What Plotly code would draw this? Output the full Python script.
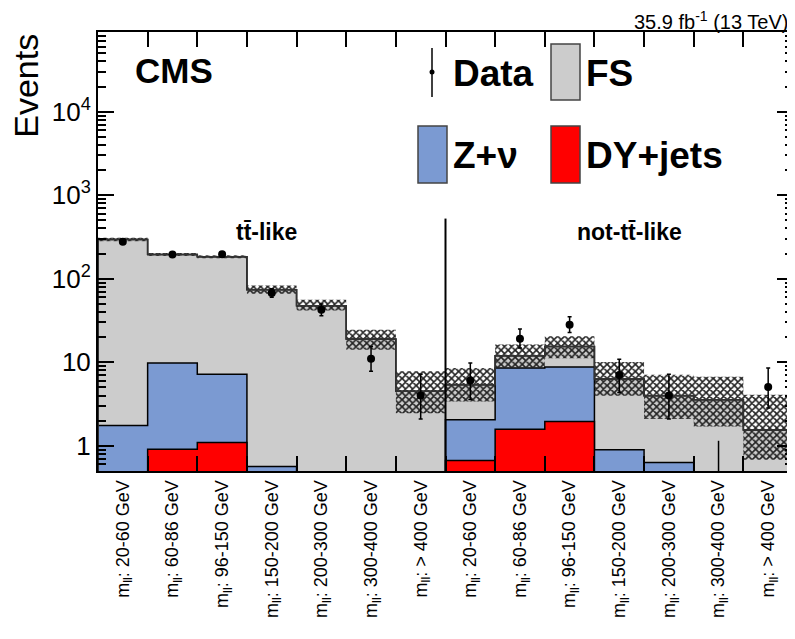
import plotly.graph_objects as go

# ---------------- data ----------------
bin_labels = ["m<sub>ll</sub>: 20-60 GeV", "m<sub>ll</sub>: 60-86 GeV", "m<sub>ll</sub>: 96-150 GeV",
              "m<sub>ll</sub>: 150-200 GeV", "m<sub>ll</sub>: 200-300 GeV", "m<sub>ll</sub>: 300-400 GeV",
              "m<sub>ll</sub>: > 400 GeV"] * 2
# stacked totals (FS + Z+nu + DY), Z+nu + DY, DY
total_bkg = [295, 195, 183, 74, 47.5, 19.0, 4.5, 5.4, 12.0, 15.5, 6.3, 3.98, 3.56, 1.55]
znu_plus_dy = [1.75, 9.8, 7.2, 0.565, 0, 0, 0, 2.05, 8.55, 8.8, 0.9, 0.63, 0, 0]
dy_jets = [0, 0.91, 1.1, 0, 0, 0, 0, 0.667, 1.58, 1.96, 0, 0, 0, 0]
unc_hi = [310, 203, 191, 83, 56, 24.6, 7.8, 8.55, 16.3, 20.5, 10.1, 7.1, 6.7, 4.1]
unc_lo = [282, 187, 176, 66, 41.7, 14.1, 2.46, 3.4, 8.55, 11.2, 3.98, 2.1, 1.7, 0.68]
data_val = [277, 195, 196, 67.6, 42.7, 11.0, 4.0, 6.07, 19.2, 28.2, 7.05, 4.0, 0, 5.05]
data_hi = [294, 209, 210, 76, 50, 15.5, 7.2, 9.8, 25, 35, 10.9, 7.2, 1.15, 8.55]
data_lo = [260, 181, 182, 60, 36, 7.8, 2.1, 3.6, 14.8, 22.8, 4.36, 2.1, 0, 2.83]

FLOOR = 1e-3
n = len(total_bkg)
xs = list(range(n))
edges = [i + 0.5 for i in range(n - 1)]
YR = [-0.301, 4.954]


def step_polygon(vals):
    px, py = [-0.5], [FLOOR]
    for i, v in enumerate(vals):
        v = v if v > 0 else FLOOR
        px += [i - 0.5, i + 0.5]
        py += [v, v]
    px += [n - 0.5, -0.5]
    py += [FLOOR, FLOOR]
    return px, py


fig = go.Figure()

for vals, col in [(total_bkg, "#cccccc"), (znu_plus_dy, "#7b9ad2"), (dy_jets, "#ff0000")]:
    px, py = step_polygon(vals)
    fig.add_trace(go.Scatter(x=px, y=py, mode="lines", fill="toself", fillcolor=col,
                             line=dict(color="black", width=1.5), showlegend=False,
                             hoverinfo="skip"))

# uncertainty band
hx, hy = [], []
for i in range(n):
    hx += [i - 0.5, i + 0.5, i + 0.5, i - 0.5, i - 0.5, None]
    hy += [unc_lo[i], unc_lo[i], unc_hi[i], unc_hi[i], unc_lo[i], None]
fig.add_trace(go.Scatter(x=hx, y=hy, mode="lines", fill="toself", fillcolor="rgba(0,0,0,0)",
                         fillpattern=dict(shape="x", fgcolor="#222222", bgcolor="rgba(0,0,0,0)",
                                          fgopacity=1, size=5, solidity=0.55),
                         line=dict(width=0), showlegend=False, hoverinfo="skip"))

# redraw grey outline on top of hatch (as in reference)
px, py = step_polygon(total_bkg)
fig.add_trace(go.Scatter(x=px, y=py, mode="lines", line=dict(color="#333333", width=1.5),
                         showlegend=False, hoverinfo="skip"))

# data points
dx, dy, eu, ed = [], [], [], []
zx, zy = [], []
for i in range(n):
    if data_val[i] > 0:
        dx.append(i)
        dy.append(data_val[i])
        eu.append(data_hi[i] - data_val[i])
        ed.append(data_val[i] - data_lo[i])
    else:
        zx += [i, i, None]
        zy += [0.3, data_hi[i], None]
fig.add_trace(go.Scatter(x=dx, y=dy, mode="markers", marker=dict(color="black", size=8),
                         error_y=dict(type="data", array=eu, arrayminus=ed, color="black",
                                      thickness=1.5, width=2),
                         showlegend=False))
fig.add_trace(go.Scatter(x=zx, y=zy, mode="lines", line=dict(color="black", width=1.5),
                         showlegend=False))

# ---------------- layout ----------------
# (page body has an 8px margin, so the figure is sized/offset to compensate)
fig.update_layout(
    width=787, height=631,
    margin=dict(l=90, r=2, t=24, b=168, autoexpand=False),
    paper_bgcolor="white", plot_bgcolor="white",
    font=dict(family="Liberation Sans, Arial", color="black"),
    showlegend=False,
)
ymajor = [1, 10, 100, 1000, 10000]
yminor = [m * 10 ** e for e in range(-1, 5) for m in range(2, 10)]
fig.update_layout(
    xaxis=dict(range=[-0.5, n - 0.5], tickmode="array", tickvals=xs, ticktext=bin_labels,
               tickangle=-90, ticks="", tickfont=dict(size=18), automargin=False,
               showline=True, linecolor="black", linewidth=2, mirror=True, showgrid=False,
               zeroline=False),
    xaxis2=dict(range=[-0.5, n - 0.5], overlaying="x", side="top", anchor="y",
                tickmode="array", tickvals=edges, ticks="inside", ticklen=15, tickwidth=1.5,
                tickcolor="black", showticklabels=False, showgrid=False, zeroline=False,
                automargin=False),
    xaxis3=dict(range=[-0.5, n - 0.5], overlaying="x", side="bottom", anchor="y",
                tickmode="array", tickvals=edges, ticks="inside", ticklen=15, tickwidth=1.5,
                tickcolor="black", showticklabels=False, showgrid=False, zeroline=False,
                automargin=False),
    yaxis=dict(type="log", range=YR, tickmode="array", tickvals=ymajor,
               ticktext=["1", "10", "10<sup>2</sup>", "10<sup>3</sup>", "10<sup>4</sup>"],
               ticks="inside", ticklen=16, tickwidth=1.5, tickcolor="black",
               tickfont=dict(size=26), automargin=False,
               showline=True, linecolor="black", linewidth=2, mirror=True, showgrid=False,
               zeroline=False,
               minor=dict(tickmode="array", tickvals=yminor, ticks="inside", ticklen=8,
                          tickcolor="black", tickwidth=1.5, showgrid=False)),
    yaxis2=dict(type="log", range=YR, overlaying="y", side="right", anchor="x",
                tickmode="array", tickvals=ymajor, ticks="inside", ticklen=16, tickwidth=1.5,
                tickcolor="black", showticklabels=False, showgrid=False, zeroline=False,
                automargin=False,
                minor=dict(tickmode="array", tickvals=yminor, ticks="inside", ticklen=8,
                           tickcolor="black", tickwidth=1.5, showgrid=False)),
)
# invisible traces to activate the overlay axes
fig.add_trace(go.Scatter(x=[None], y=[None], xaxis="x2", yaxis="y", showlegend=False))
fig.add_trace(go.Scatter(x=[None], y=[None], xaxis="x3", yaxis="y2", showlegend=False))

# divider line
fig.add_shape(type="line", xref="x", yref="paper", x0=6.5, x1=6.5, y0=0, y1=0.575,
              line=dict(color="black", width=2))

ann = []
ann.append(dict(text="35.9 fb<sup>-1</sup> (13 TeV)", xref="paper", yref="paper", x=0.9957, y=1.0,
                xanchor="right", yanchor="bottom", showarrow=False, font=dict(size=20), yshift=-3))
ann.append(dict(text="<b>CMS</b>", xref="paper", yref="paper", x=0.05, y=0.912,
                xanchor="left", yanchor="middle", showarrow=False, font=dict(size=35)))
ann.append(dict(text="Events", xref="paper", yref="paper", x=-0.104, y=1.0, textangle=-90,
                xanchor="center", yanchor="top", showarrow=False, font=dict(size=34)))
ann.append(dict(text="<b>tt\u0304-like</b>", xref="x", yref="paper", x=2.9, y=0.545,
                xanchor="center", yanchor="middle", showarrow=False, font=dict(size=23)))
ann.append(dict(text="<b>not-tt\u0304-like</b>", xref="x", yref="paper", x=10.2, y=0.545,
                xanchor="center", yanchor="middle", showarrow=False, font=dict(size=23)))


# legend (manual), positions given in reference-pixel terms
def px2x(p):
    return (p - 98) / 695.0


def py2y(p):
    return (471 - p) / 439.0


for (x0, y0, x1, y1, col) in [(551, 44, 580, 100, "#cccccc"), (418, 126, 447, 183, "#7b9ad2"),
                              (551, 126, 580, 183, "#ff0000")]:
    fig.add_shape(type="rect", xref="paper", yref="paper", x0=px2x(x0), x1=px2x(x1),
                  y0=py2y(y1), y1=py2y(y0), fillcolor=col, line=dict(color="#444444", width=1.5))
fig.add_shape(type="line", xref="paper", yref="paper", x0=px2x(432), x1=px2x(432),
              y0=py2y(97), y1=py2y(48), line=dict(color="black", width=1.5))
fig.add_shape(type="circle", xref="paper", yref="paper", x0=px2x(429.5), x1=px2x(434.5),
              y0=py2y(74.5), y1=py2y(69.5), fillcolor="black", line=dict(color="black", width=0))
for (t, x, y) in [("Data", 451, 73), ("FS", 584, 73), ("Z+\u03bd", 451, 155), ("DY+jets", 584, 155)]:
    ann.append(dict(text="<b>%s</b>" % t, xref="paper", yref="paper", x=px2x(x), y=py2y(y),
                    xanchor="left", yanchor="middle", showarrow=False, font=dict(size=37)))

fig.update_layout(annotations=ann)
fig.write_html("out.html")
